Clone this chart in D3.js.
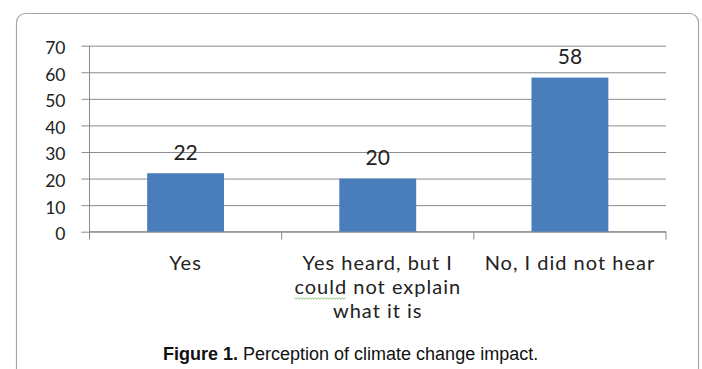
<!DOCTYPE html>
<html>
<head>
<meta charset="utf-8">
<script src="https://cdn.jsdelivr.net/npm/d3@7"></script>
<style>
  html, body { margin: 0; padding: 0; background: #fff; }
  svg { display: block; }
</style>
</head>
<body>
<svg id="chart" width="702" height="369"></svg>
<script>
const categories = ["Yes", "Yes heard, but I could not explain what it is", "No, I did not hear"];
const values = [22, 20, 58];
const yTicks = [0, 10, 20, 30, 40, 50, 60, 70];
const captionBold = "Figure 1.";
const captionText = " Perception of climate change impact.";

const svg = d3.select("#chart");
const W = 702, H = 369;
const labelFont = "Lato, 'Open Sans', sans-serif";
const textColor = "#222";

svg.append("rect").attr("width", W).attr("height", H).attr("fill", "#fff");
svg.append("rect")
  .attr("x", 16.5).attr("y", 13.5).attr("width", 682).attr("height", 400)
  .attr("rx", 9).attr("fill", "none").attr("stroke", "#a6a6a6").attr("stroke-width", 1.2);

const plot = { left: 89.5, right: 666, top: 45.7, bottom: 231.7 };

const x = d3.scaleBand().domain(categories).range([plot.left, plot.right])
  .paddingInner(0.6).paddingOuter(0.3);
const y = d3.scaleLinear().domain([0, 70]).range([plot.bottom, plot.top]);

const grid = "#8c8c8c";

// gridlines + y ticks
const yAxis = d3.axisLeft(y).tickValues(yTicks).tickSize(-(plot.right - plot.left)).tickSizeOuter(0);
const gy = svg.append("g").attr("transform", `translate(${plot.left},0)`).call(yAxis);
gy.select(".domain").remove();
gy.selectAll(".tick line").attr("stroke", grid).attr("stroke-width", 1).attr("x1", -8);
gy.selectAll(".tick text")
  .attr("font-family", labelFont).attr("font-size", 17.5).attr("fill", textColor)
  .attr("dy", "0.45em").attr("x", -24);

// vertical axis line
svg.append("line").attr("x1", plot.left).attr("x2", plot.left)
  .attr("y1", plot.top).attr("y2", plot.bottom + 8).attr("stroke", grid);

// x axis line + ticks at band boundaries
svg.append("line").attr("x1", plot.left).attr("x2", plot.right)
  .attr("y1", plot.bottom).attr("y2", plot.bottom).attr("stroke", grid);
const boundaries = categories.map(c => x(c) - x.step() * x.paddingInner() / 2).slice(1)
  .concat([plot.right]);
svg.selectAll(".xtick").data(boundaries).join("line")
  .attr("x1", d => d).attr("x2", d => d)
  .attr("y1", plot.bottom).attr("y2", plot.bottom + 8).attr("stroke", grid);

// bars
svg.selectAll(".bar").data(values).join("rect")
  .attr("x", (d, i) => x(categories[i]))
  .attr("y", d => y(d))
  .attr("width", x.bandwidth())
  .attr("height", d => y(0) - y(d))
  .attr("fill", "#4a7ebb");

// value labels
svg.selectAll(".vl").data(values).join("text")
  .attr("x", (d, i) => x(categories[i]) + x.bandwidth() / 2)
  .attr("y", d => y(d) - 13.5)
  .attr("text-anchor", "middle")
  .attr("font-family", labelFont).attr("font-size", 21).attr("fill", textColor)
  .text(d => d);

// category labels with wrapping
const maxW = 190;
const catSize = 20, catSpacing = 1.0;
categories.forEach((c, i) => {
  const cx = x(c) + x.bandwidth() / 2;
  const t = svg.append("text").attr("text-anchor", "middle")
    .attr("font-family", labelFont).attr("font-size", catSize)
    .attr("letter-spacing", catSpacing).attr("fill", textColor);
  const words = c.split(" ");
  let lines = [], cur = [];
  const probe = t.append("tspan");
  words.forEach(w => {
    const test = cur.concat([w]).join(" ");
    probe.text(test);
    if (probe.node().getComputedTextLength() > maxW && cur.length) {
      lines.push(cur.join(" "));
      cur = [w];
    } else cur.push(w);
  });
  lines.push(cur.join(" "));
  probe.remove();
  lines.forEach((ln, k) => {
    const ly = 270 + k * 24;
    const ts = t.append("tspan").attr("x", cx).attr("y", ly).text(ln);
    // spell-check style squiggle under the word "could"
    if (ln.startsWith("could ")) {
      const node = ts.node();
      const full = node.getComputedTextLength();
      const wlen = node.getSubStringLength(0, 5);
      const x0 = cx - full / 2, x1 = x0 + wlen - catSpacing;
      const pts = [];
      for (let px = x0, k2 = 0; px <= x1; px += 1.5, k2++) pts.push([px, ly + 4 + (k2 % 2 ? 1.2 : -0.2)]);
      svg.append("path").attr("d", d3.line()(pts)).attr("fill", "none")
        .attr("stroke", "#79b86b").attr("stroke-width", 0.9);
    }
  });
});

// caption
const cap = svg.append("text").attr("x", 163).attr("y", 360)
  .attr("font-family", "'Liberation Sans', Arial, sans-serif").attr("font-size", 18).attr("fill", "#111");
cap.append("tspan").attr("font-weight", "bold").text(captionBold);
cap.append("tspan").text(captionText);
</script>
</body>
</html>
